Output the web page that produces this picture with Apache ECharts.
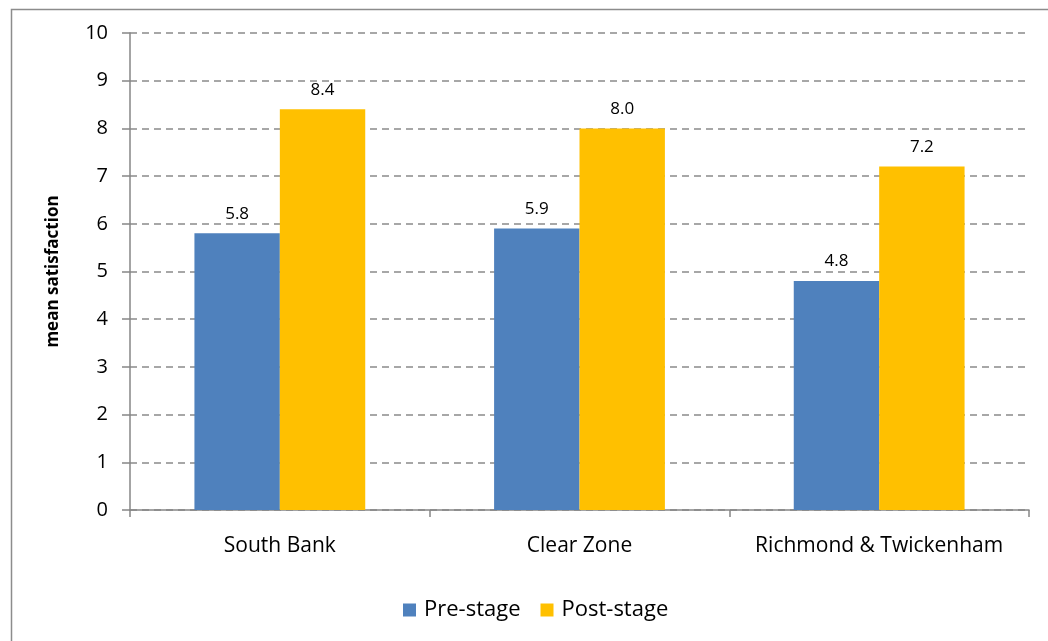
<!DOCTYPE html>
<html>
<head>
<meta charset="utf-8">
<script src="https://cdn.jsdelivr.net/npm/echarts@6/dist/echarts.min.js"></script>
<style>
html,body{margin:0;padding:0;background:#fff;}
#container{width:1048px;height:641px;}
</style>
</head>
<body>
<div id="container"></div>
<script>
var categories = ['South Bank', 'Clear Zone', 'Richmond & Twickenham'];
var preStage = [5.8, 5.9, 4.8];
var postStage = [8.4, 8.0, 7.2];
var seriesNames = ['Pre-stage', 'Post-stage'];

var dom = document.getElementById("container");
var myChart = echarts.init(dom);
var fontName = '"Open Sans", Lato, sans-serif';

var option = {
    animation: false,
    textStyle: { fontFamily: fontName },
    graphic: [{
        type: 'rect',
        left: 9, top: 7,
        shape: { width: 1100, height: 700 },
        style: { fill: 'none', stroke: '#8c8c8c', lineWidth: 1.5 },
        silent: true
    }],
    grid: {
        left: 130,
        right: 19,
        top: 33,
        bottom: 131,
        containLabel: false
    },
    legend: {
        data: seriesNames,
        bottom: 15,
        left: 398,
        itemWidth: 13,
        itemHeight: 13,
        itemGap: 20,
        icon: 'rect',
        textStyle: { fontSize: 22, color: '#000', fontFamily: fontName, padding: [0, 0, 0, 3] }
    },
    xAxis: {
        type: 'category',
        data: categories,
        axisLine: { lineStyle: { color: '#868686', width: 1.5 } },
        axisTick: { show: true, interval: 0, length: 7, lineStyle: { color: '#868686', width: 1.5 } },
        axisLabel: { interval: 0, fontSize: 21, color: '#000', margin: 26, fontFamily: fontName }
    },
    yAxis: {
        type: 'value',
        min: 0,
        max: 10,
        interval: 1,
        name: 'mean satisfaction',
        nameLocation: 'middle',
        nameGap: 68,
        nameRotate: 90,
        nameTextStyle: { fontSize: 17, fontWeight: 'bold', color: '#000', fontFamily: fontName },
        axisLine: { show: true, lineStyle: { color: '#868686', width: 1.5 } },
        axisTick: { show: true, length: 8, lineStyle: { color: '#868686', width: 1.5 } },
        axisLabel: { fontSize: 20, color: '#000', margin: 22, fontFamily: fontName },
        splitLine: { lineStyle: { color: '#8a8a8a', type: [7, 5], width: 1.5 } }
    },
    series: [
        {
            name: seriesNames[0],
            type: 'bar',
            data: preStage,
            barGap: '0%',
            barCategoryGap: '43%',
            itemStyle: { color: '#4f81bd' },
            label: {
                show: true, position: 'top', distance: 11, fontSize: 17, color: '#000',
                fontFamily: fontName,
                formatter: function (p) { return p.value.toFixed(1); }
            }
        },
        {
            name: seriesNames[1],
            type: 'bar',
            data: postStage,
            barGap: '0%',
            barCategoryGap: '43%',
            itemStyle: { color: '#ffc000' },
            label: {
                show: true, position: 'top', distance: 11, fontSize: 17, color: '#000',
                fontFamily: fontName,
                formatter: function (p) { return p.value.toFixed(1); }
            }
        }
    ]
};
if (option && typeof option === "object") {
    myChart.setOption(option, true);
}
</script>
</body>
</html>
